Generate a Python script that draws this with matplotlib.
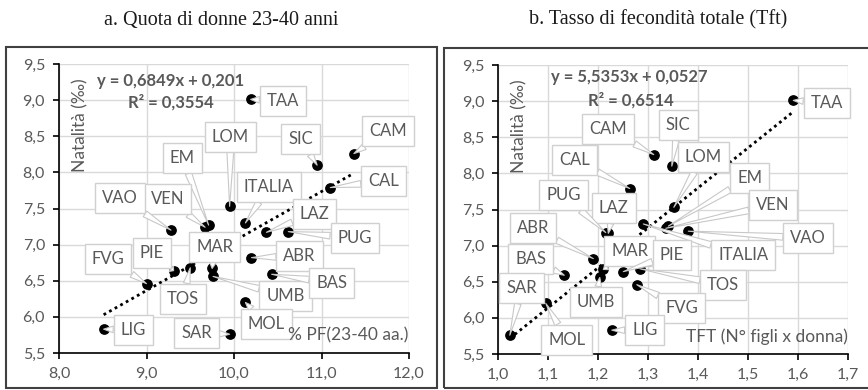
import numpy as np
import matplotlib.pyplot as plt
from matplotlib.patches import Rectangle

plt.rcParams['font.family'] = ['Lato', 'DejaVu Sans']

# data
regioni = ['TAA', 'CAM', 'SIC', 'CAL', 'LOM', 'ITALIA', 'EM', 'VEN', 'VAO', 'LAZ',
           'PUG', 'ABR', 'MAR', 'PIE', 'TOS', 'UMB', 'BAS', 'FVG', 'MOL', 'SAR', 'LIG']
pf = [10.19, 11.37, 10.95, 11.10, 9.95, 10.13, 9.71, 9.67, 9.28, 10.37,
      10.62, 10.20, 9.75, 9.31, 9.50, 9.76, 10.43, 9.00, 10.13, 9.95, 8.51]
tft = [1.59, 1.311, 1.347, 1.263, 1.351, 1.29, 1.34, 1.335, 1.38, 1.22,
       1.215, 1.19, 1.21, 1.25, 1.283, 1.203, 1.132, 1.277, 1.095, 1.023, 1.227]
nat = [9.01, 8.26, 8.10, 7.79, 7.53, 7.30, 7.27, 7.24, 7.20, 7.17,
       7.18, 6.82, 6.67, 6.64, 6.68, 6.56, 6.59, 6.46, 6.20, 5.76, 5.83]

fit_a = (0.6849, 0.201, '0,6849x + 0,201', '0,3554')
fit_b = (5.5353, 0.0527, '5,5353x + 0,0527', '0,6514')

# label box positions (data coords)
lab_a = {'TAA': (10.56, 8.99), 'CAM': (11.76, 8.57), 'SIC': (10.76, 8.46), 'CAL': (11.71, 7.88),
         'LOM': (9.96, 8.49), 'ITALIA': (10.40, 7.80), 'EM': (9.41, 8.20), 'VEN': (9.24, 7.63),
         'VAO': (8.70, 7.64), 'LAZ': (10.92, 7.43), 'PUG': (11.38, 7.09), 'ABR': (10.75, 6.84),
         'MAR': (9.78, 6.97), 'PIE': (9.06, 6.88), 'TOS': (9.42, 6.25), 'UMB': (10.59, 6.29),
         'BAS': (11.12, 6.47), 'FVG': (8.56, 6.80), 'MOL': (10.37, 5.90), 'SAR': (9.57, 5.78),
         'LIG': (8.85, 5.82)}
lab_b = {'TAA': (1.657, 8.98), 'CAM': (1.22, 8.61), 'SIC': (1.36, 8.67), 'CAL': (1.153, 8.18),
         'LOM': (1.41, 8.23), 'ITALIA': (1.49, 6.87), 'EM': (1.503, 7.94), 'VEN': (1.549, 7.56),
         'VAO': (1.62, 7.10), 'LAZ': (1.231, 7.52), 'PUG': (1.13, 7.70), 'ABR': (1.07, 7.24),
         'MAR': (1.263, 6.92), 'PIE': (1.347, 6.87), 'TOS': (1.45, 6.46), 'UMB': (1.195, 6.22),
         'BAS': (1.065, 6.82), 'FVG': (1.367, 6.14), 'MOL': (1.137, 5.70), 'SAR': (1.047, 6.41),
         'LIG': (1.293, 5.83)}

grey = '#595959'

fig = plt.figure(figsize=(8.68, 3.90), dpi=100)

# outer chart frames
fig.patches.append(Rectangle((6/868, 1-388/390), 431/868, 341/390, transform=fig.transFigure,
                             fill=False, ec='#404040', lw=1.5))
fig.patches.append(Rectangle((444/868, 1-388/390), 430/868, 340/390, transform=fig.transFigure,
                             fill=False, ec='#404040', lw=1.5))

fig.text(221/868, 1-20/390, 'a. Quota di donne 23-40 anni', ha='center', va='center',
         family='Liberation Serif', fontsize=14.5, color='#1a1a1a')
fig.text(658/868, 1-20/390, 'b. Tasso di fecondità totale (Tft)', ha='center', va='center',
         family='Liberation Serif', fontsize=14.5, color='#1a1a1a')

ax1 = fig.add_axes([59/868, 1-353/390, 350/868, 289/390])
ax2 = fig.add_axes([498.3/868, 1-354/390, 350/868, 289/390])


def draw(ax, x, labs, fit, xlim, xticks, xlabel, eqpos, r2pos):
    x = np.array(x)
    y = np.array(nat)
    yticks = np.arange(5.5, 9.51, 0.5)
    ax.set_xlim(*xlim)
    ax.set_ylim(5.5, 9.5)
    ax.set_xticks(xticks)
    ax.set_yticks(yticks)
    ax.set_xticklabels([f'{v:.1f}'.replace('.', ',') for v in xticks])
    ax.set_yticklabels([f'{v:.1f}'.replace('.', ',') for v in yticks])
    ax.grid(True, color='#d9d9d9', lw=1)
    ax.set_axisbelow(True)
    for s in ['top', 'right']:
        ax.spines[s].set_visible(False)
    for s in ['left', 'bottom']:
        ax.spines[s].set_color('black')
        ax.spines[s].set_linewidth(1.2)
    ax.tick_params(direction='out', length=4, width=1.2, labelsize=11.5, labelcolor=grey, pad=6)

    # trendline
    xs = np.array([x.min(), x.max()])
    ax.plot(xs, fit[0]*xs + fit[1], color='black', lw=2, ls=(0, (1, 1.3)), zorder=2)

    ax.scatter(x, y, s=45, color='black', zorder=3)
    for r, xi, yi in zip(regioni, x, y):
        ax.annotate(r, (xi, yi), xytext=labs[r], textcoords='data', ha='center', va='center',
                    fontsize=12, color=grey, zorder=4,
                    bbox=dict(boxstyle='square,pad=0.42', fc='white', ec='#d0d0d0', lw=1),
                    arrowprops=dict(arrowstyle='wedge,tail_width=0.4,shrink_factor=0.5', fc='white',
                                    ec='#c8c8c8', lw=0.8, shrinkA=0, shrinkB=0))

    ax.text(eqpos[0], eqpos[1], 'y = ' + fit[2], ha='center', va='center',
            fontsize=12, fontweight='bold', color=grey, zorder=5)
    ax.text(r2pos[0], r2pos[1], 'R² = ' + fit[3], ha='center', va='center',
            fontsize=12, fontweight='bold', color=grey, zorder=5)
    ax.text(0.998, 0.06, xlabel, transform=ax.transAxes, ha='right', va='center',
            fontsize=12.5, color=grey, zorder=5)
    ax.text(0.06, 0.79, 'Natalità (‰)', transform=ax.transAxes, ha='center', va='center',
            rotation=90, fontsize=12.5, color=grey)


draw(ax1, pf, lab_a, fit_a, (8, 12), [8, 9, 10, 11, 12], '% PF(23-40 aa.)',
     (9.27, 9.27), (9.28, 8.97))
draw(ax2, tft, lab_b, fit_b, (1.0, 1.7), [1.0, 1.1, 1.2, 1.3, 1.4, 1.5, 1.6, 1.7],
     'TFT (N° figli x donna)', (1.263, 9.33), (1.265, 9.01))

fig.savefig('out.png', dpi=100)
